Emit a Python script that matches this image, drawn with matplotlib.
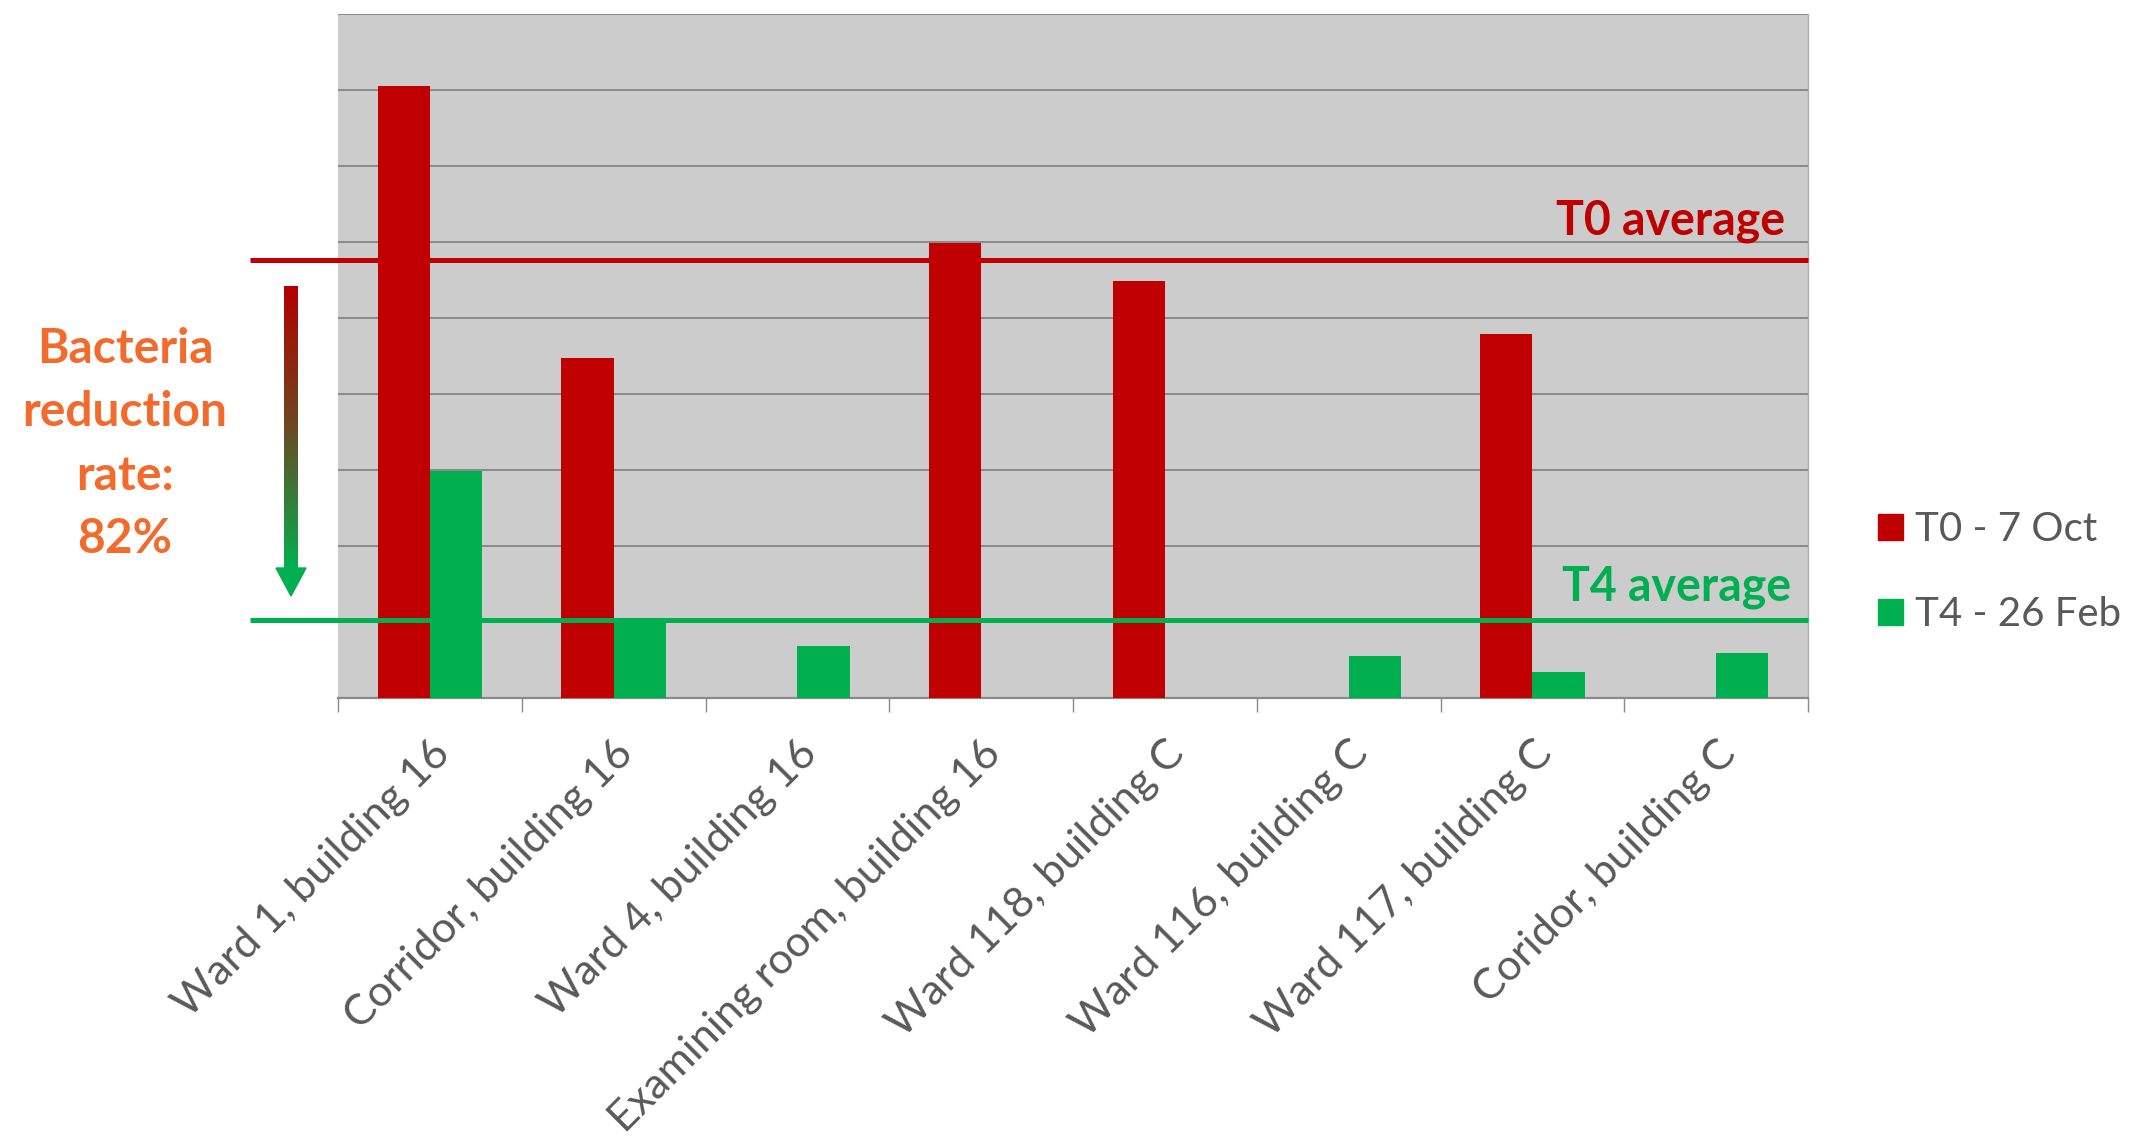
import numpy as np
import matplotlib
matplotlib.use("Agg")
import matplotlib.pyplot as plt
from matplotlib.patches import Polygon, Patch
from matplotlib.colors import LinearSegmentedColormap

categories = ["Ward 1, building 16", "Corridor, building 16", "Ward 4, building 16",
              "Examining room, building 16", "Ward 118, building C", "Ward 116, building C",
              "Ward 117, building C", "Coridor, building C"]
t0_values = [8.05, 4.47, 0.0, 5.99, 5.49, 0.0, 4.79, 0.0]
t4_values = [2.99, 1.02, 0.68, 0.0, 0.0, 0.55, 0.34, 0.59]
series_names = ["T0 - 7 Oct", "T4 - 26 Feb"]
reduction_label = "Bacteria\nreduction\nrate:\n82%"

RED = "#c00000"
GREEN = "#00b050"
ORANGE = "#f26a2c"
GREY_TXT = "#595959"

t0_avg = np.mean([v for v in t0_values if v > 0])
t4_avg = np.mean([v for v in t4_values if v > 0])

W, H = 2135, 1143
fig = plt.figure(figsize=(W / 100, H / 100), dpi=100)
ax = fig.add_axes([338 / W, 1 - 698 / H, (1808 - 338) / W, (698 - 14) / H])
ax.set_facecolor("#cccccc")

x = np.arange(len(categories))
bw = 0.285
ax.bar(x - bw / 2, t0_values, bw, color=RED, zorder=3)
ax.bar(x + bw / 2, t4_values, bw, color=GREEN, zorder=3)

ax.set_xlim(-0.5, len(categories) - 0.5)
ax.set_ylim(0, 9)
ax.set_yticks(np.arange(0, 10))
ax.yaxis.grid(True, color="#8a8a8a", linewidth=1.4, zorder=1)
ax.tick_params(axis="y", length=0, labelleft=False)
for s in ["left", "top"]:
    ax.spines[s].set_visible(False)
ax.spines["right"].set_color("#b0b0b0")
ax.spines["right"].set_linewidth(1.0)
ax.spines["bottom"].set_color("#8a8a8a")
ax.spines["bottom"].set_linewidth(1.6)

ax.set_xticks(x)
ax.set_xticklabels(categories, rotation=45, ha="right", rotation_mode="anchor",
                   fontsize=31, color=GREY_TXT, family="Lato")
ax.tick_params(axis="x", which="major", length=0, pad=26)
ax.set_xticks(np.arange(-0.5, len(categories)), minor=True)
ax.tick_params(axis="x", which="minor", length=10, width=1.0, color="#8a8a8a")

# average lines
ax.hlines(t0_avg, -0.98, len(categories) - 0.5, color=RED, linewidth=3.6, zorder=4, clip_on=False)
ax.hlines(t4_avg, -0.98, len(categories) - 0.5, color=GREEN, linewidth=3.6, zorder=4, clip_on=False)
ax.text(7.375, t0_avg + 0.34, "T0 average", color=RED, fontsize=33.5, fontweight="bold",
        family="Lato", ha="right", va="baseline", zorder=5)
ax.text(7.41, t4_avg + 0.25, "T4 average", color=GREEN, fontsize=33.5, fontweight="bold",
        family="Lato", ha="right", va="baseline", zorder=5)

# reduction text
fig.text(125 / W, 1 - 444 / H, reduction_label, color=ORANGE, fontsize=34.5, fontweight="bold",
         family="Lato", ha="center", va="center", linespacing=1.53)

# gradient arrow shaft
shaft = fig.add_axes([284 / W, 1 - 570 / H, 14 / W, (570 - 286) / H])
cmap = LinearSegmentedColormap.from_list("rg", ["#b30000", "#6b4a22", GREEN])
grad = np.linspace(0, 1, 256).reshape(-1, 1)
shaft.imshow(grad, aspect="auto", cmap=cmap, extent=[0, 1, 1, 0])
shaft.set_axis_off()
head = Polygon([[276 / W, 1 - 568 / H], [306 / W, 1 - 568 / H], [291 / W, 1 - 596 / H]],
               closed=True, transform=fig.transFigure, color=GREEN)
fig.patches.append(head)

# legend
handles = [Patch(color=RED), Patch(color=GREEN)]
fig.legend(handles, series_names, loc="center left", bbox_to_anchor=(1842 / W, 1 - 572 / H),
           frameon=False, labelcolor=GREY_TXT, prop={"family": "Lato", "size": 29},
           handlelength=0.62, handleheight=0.62, handletextpad=0.3, labelspacing=1.2)

fig.savefig("out.png", dpi=100, facecolor="white")
